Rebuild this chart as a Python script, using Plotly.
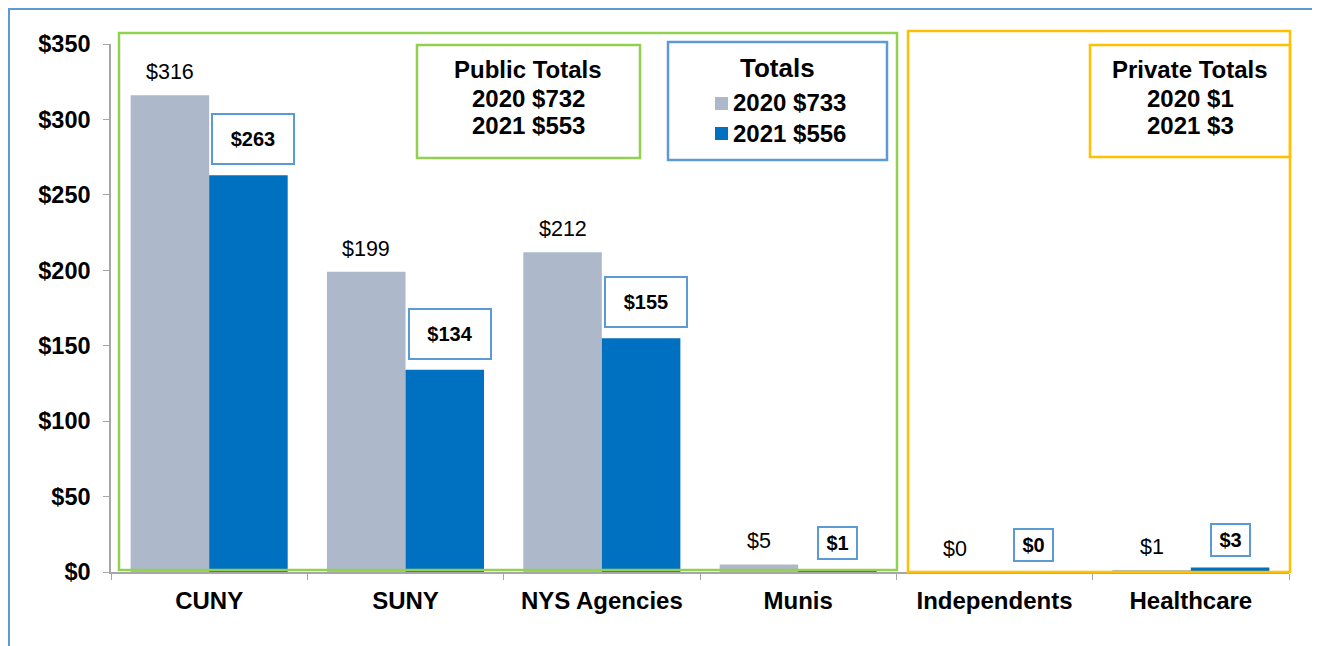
import plotly.graph_objects as go

categories = ["CUNY", "SUNY", "NYS Agencies", "Munis", "Independents", "Healthcare"]
values_2020 = [316, 199, 212, 5, 0, 1]
values_2021 = [263, 134, 155, 1, 0, 3]
public_totals = {"title": "Public Totals", "2020": 732, "2021": 553}
private_totals = {"title": "Private Totals", "2020": 1, "2021": 3}
overall_totals = {"title": "Totals", "2020": 733, "2021": 556}
y_ticks = [0, 50, 100, 150, 200, 250, 300, 350]
y_tick_text = [f"${v}" for v in y_ticks]

GRAY = "#adb9ca"
BLUE = "#0070c0"
BOX_BLUE = "#5b9bd5"
GREEN = "#92d050"
YELLOW = "#ffc000"
FONT = "Liberation Sans, Arial, sans-serif"

# page has an 8px body margin; work in page pixel coordinates
OFF = 8
W, H = 1320 - OFF, 646 - OFF
AX_L, AX_R, AX_T, AX_B = 111, 1289, 44, 572  # plot area in page pixels
PW = AX_R - AX_L
PH = AX_B - AX_T


def px(xpix):
    return (xpix - AX_L) / PW


def py(ypix):
    return (AX_B - ypix) / PH


cat_w = PW / len(categories)
shift = 0.2 * cat_w

fig = go.Figure()
fig.add_trace(go.Bar(x=categories, y=values_2020, name="2020",
                     marker=dict(color=GRAY, line=dict(width=0))))
fig.add_trace(go.Bar(x=categories, y=values_2021, name="2021",
                     marker=dict(color=BLUE, line=dict(width=0))))

annotations = []
for c, v in zip(categories, values_2020):
    annotations.append(dict(x=c, y=v, xref="x", yref="y", xshift=-shift, yshift=23,
                            text=f"${v}", showarrow=False, yanchor="middle",
                            font=dict(family=FONT, size=21.5, color="#000")))
for c, v in zip(categories, values_2021):
    big = v >= 10
    annotations.append(dict(x=c, y=v, xref="x", yref="y",
                            xshift=shift + (5 if big else 0), yshift=10,
                            text=f"<b>${v}</b>", showarrow=False, yanchor="bottom",
                            width=78 if big else 35, height=46 if big else 28,
                            bgcolor="white", bordercolor=BOX_BLUE, borderwidth=2,
                            font=dict(family=FONT, size=20, color="#000")))


def text_line(xc, yc, txt, size=24, anchor="center"):
    annotations.append(dict(x=px(xc), y=py(yc), xref="paper", yref="paper",
                            text=f"<b>{txt}</b>", showarrow=False,
                            xanchor=anchor, yanchor="middle",
                            font=dict(family=FONT, size=size, color="#000")))


# Public totals box text
text_line(528, 70, public_totals["title"])
text_line(528, 98.5, f"2020 ${public_totals['2020']}")
text_line(528, 126, f"2021 ${public_totals['2021']}")
# Private totals box text
text_line(1190, 70, private_totals["title"])
text_line(1190, 98.5, f"2020 ${private_totals['2020']}")
text_line(1190, 126, f"2021 ${private_totals['2021']}")
# Totals legend box
text_line(777.5, 67.5, overall_totals["title"], size=26)
text_line(731, 103, f"2020 ${overall_totals['2020']}", anchor="left")
text_line(731, 133, f"2021 ${overall_totals['2021']}", anchor="left")

shapes = []


def rect(x0, y0, x1, y1, color, width=2, fill=None):
    shapes.append(dict(type="rect", xref="paper", yref="paper",
                       x0=px(x0), x1=px(x1), y0=py(y1), y1=py(y0),
                       line=dict(color=color, width=width),
                       fillcolor=fill if fill else "rgba(0,0,0,0)", layer="above"))


rect(OFF + 1, OFF + 1, 1315, 700, BOX_BLUE, 2)
rect(119, 33, 897, 570, GREEN, 2.5)
rect(908, 31, 1290, 572, YELLOW, 2.5)
rect(417, 45, 640, 158, GREEN, 2.5)
rect(668, 42, 887, 160, BOX_BLUE, 2.5)
rect(1090, 45, 1290, 157, YELLOW, 2.5)
# legend swatches
rect(715, 97, 728, 110, GRAY, 0, GRAY)
rect(715, 127, 728, 140, BLUE, 0, BLUE)

fig.update_layout(
    width=W, height=H,
    margin=dict(l=AX_L - OFF, r=W - (AX_R - OFF), t=AX_T - OFF, b=H - (AX_B - OFF)),
    paper_bgcolor="white", plot_bgcolor="white",
    barmode="group", bargap=0.2, bargroupgap=0,
    showlegend=False,
    annotations=annotations, shapes=shapes,
    font=dict(family=FONT, color="#000"),
)
fig.update_xaxes(
    showline=True, linecolor="#a6a6a6", linewidth=1.5,
    ticks="outside", tickson="boundaries", ticklen=6, tickcolor="#a6a6a6",
    tickfont=dict(family=FONT, size=24, color="#000", weight="bold"),
    ticklabelstandoff=6,
    showgrid=False, zeroline=False,
)
fig.update_yaxes(
    range=[0, 350], tickvals=y_ticks, ticktext=y_tick_text,
    showline=True, linecolor="#a6a6a6", linewidth=1.5,
    ticks="outside", ticklen=6, tickcolor="#a6a6a6",
    tickfont=dict(family=FONT, size=23.5, color="#000", weight="bold"),
    ticklabelstandoff=8,
    showgrid=False, zeroline=False,
)

fig.write_html("out.html")
